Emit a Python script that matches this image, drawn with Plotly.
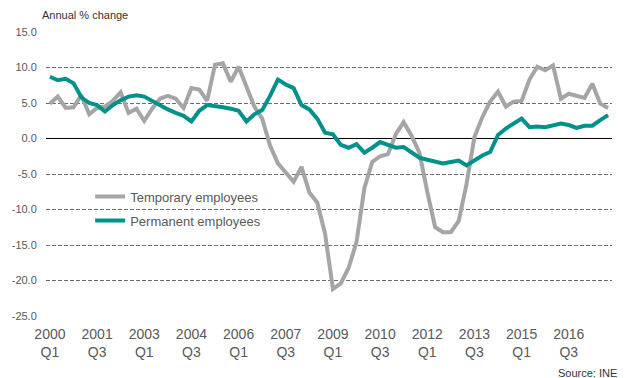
import plotly.graph_objects as go

# Quarters 2000Q1 .. 2017Q4
quarters = [f"{y} Q{q}" for y in range(2000, 2018) for q in range(1, 5)]

temporary = [
    4.9, 5.9, 4.3, 4.4, 6.1, 3.4, 4.3, 4.5, 5.3, 6.5,
    3.6, 4.2, 2.5, 4.2, 5.6, 6.0, 5.6, 4.3, 7.1, 6.9,
    5.3, 10.4, 10.6, 8.0, 10.1, 7.3, 4.5, 2.8, -1.0, -3.5,
    -4.9, -6.1, -4.0, -7.6, -9.0, -13.4, -21.2, -20.4, -18.2, -14.6,
    -7.0, -3.3, -2.5, -2.2, 0.6, 2.3, 0.4, -2.0, -7.5, -12.5,
    -13.2, -13.2, -11.6, -6.4, 0.2, 3.0, 5.2, 6.6, 4.5, 5.2,
    5.3, 8.3, 10.1, 9.6, 10.3, 5.6, 6.3, 6.0, 5.7, 7.7,
    4.9, 4.3,
]

permanent = [
    8.7, 8.2, 8.4, 7.8, 5.8, 5.0, 4.7, 3.8, 4.7, 5.4,
    5.9, 6.1, 5.9, 5.3, 4.6, 4.1, 3.6, 3.2, 2.4, 3.9,
    4.7, 4.6, 4.4, 4.2, 3.9, 2.4, 3.4, 4.0, 6.0, 8.3,
    7.6, 7.1, 4.7, 4.1, 2.8, 0.8, 0.6, -0.9, -1.3, -0.8,
    -2.0, -1.3, -0.5, -0.9, -1.3, -1.2, -2.0, -2.7, -3.0, -3.3,
    -3.5, -3.3, -3.1, -3.8, -3.1, -2.4, -1.9, 0.5, 1.4, 2.1,
    2.8, 1.6, 1.7, 1.6, 1.9, 2.1, 1.9, 1.5, 1.8, 1.8,
    2.6, 3.3,
]

tick_positions = quarters[::6]
tick_labels = [q.replace(" ", "<br>") for q in tick_positions]
y_ticks = [15, 10, 5, 0, -5, -10, -15, -20, -25]

FONT = "Liberation Sans, Arial, sans-serif"
TXT = "#595959"

fig = go.Figure()
fig.add_trace(go.Scatter(
    x=list(range(len(quarters))), y=temporary, mode="lines",
    name="Temporary employees", legendgroup="a",
    line=dict(color="#a5a5a5", width=4),
))
fig.add_trace(go.Scatter(
    x=list(range(len(quarters))), y=permanent, mode="lines",
    name="Permanent employees", legendgroup="b",
    line=dict(color="#00918b", width=4),
))

fig.update_layout(
    width=624, height=378,
    margin=dict(l=43, r=12, t=32, b=62),
    paper_bgcolor="white", plot_bgcolor="white",
    font=dict(family=FONT, color=TXT),
    showlegend=True,
    legend=dict(
        x=0.078, y=0.473, xanchor="left", yanchor="top",
        bgcolor="rgba(0,0,0,0)", font=dict(size=13, color=TXT, family=FONT),
        tracegroupgap=4, traceorder="grouped",
    ),
    annotations=[
        dict(text="Annual % change", xref="paper", yref="paper",
             x=-0.011, y=1.06, xanchor="left", yanchor="middle",
             showarrow=False, font=dict(size=11, color="#333333", family=FONT)),
        dict(text="Source: INE", xref="paper", yref="paper",
             x=1.0125, y=-0.2, xanchor="right", yanchor="middle",
             showarrow=False, font=dict(size=11, color="#333333", family=FONT)),
    ],
)

fig.update_xaxes(
    range=[-0.5, len(quarters) - 0.5],
    tickmode="array",
    tickvals=[quarters.index(q) for q in tick_positions],
    ticktext=tick_labels,
    tickfont=dict(size=14, color=TXT, family=FONT),
    showgrid=False, zeroline=False, showline=False,
    ticks="outside", ticklen=5, tickcolor="rgba(0,0,0,0)",
)
fig.update_yaxes(
    range=[-25, 15],
    tickmode="array", tickvals=y_ticks,
    ticktext=[f"{v:.1f}" for v in y_ticks],
    tickfont=dict(size=11, color=TXT, family=FONT),
    showgrid=True, gridcolor="#6f6f6f", gridwidth=1, griddash="4px,2px",
    zeroline=True, zerolinecolor="#000000", zerolinewidth=1,
    showline=False, ticks="outside", ticklen=6, tickcolor="rgba(0,0,0,0)",
)

fig.write_html("out.html")
